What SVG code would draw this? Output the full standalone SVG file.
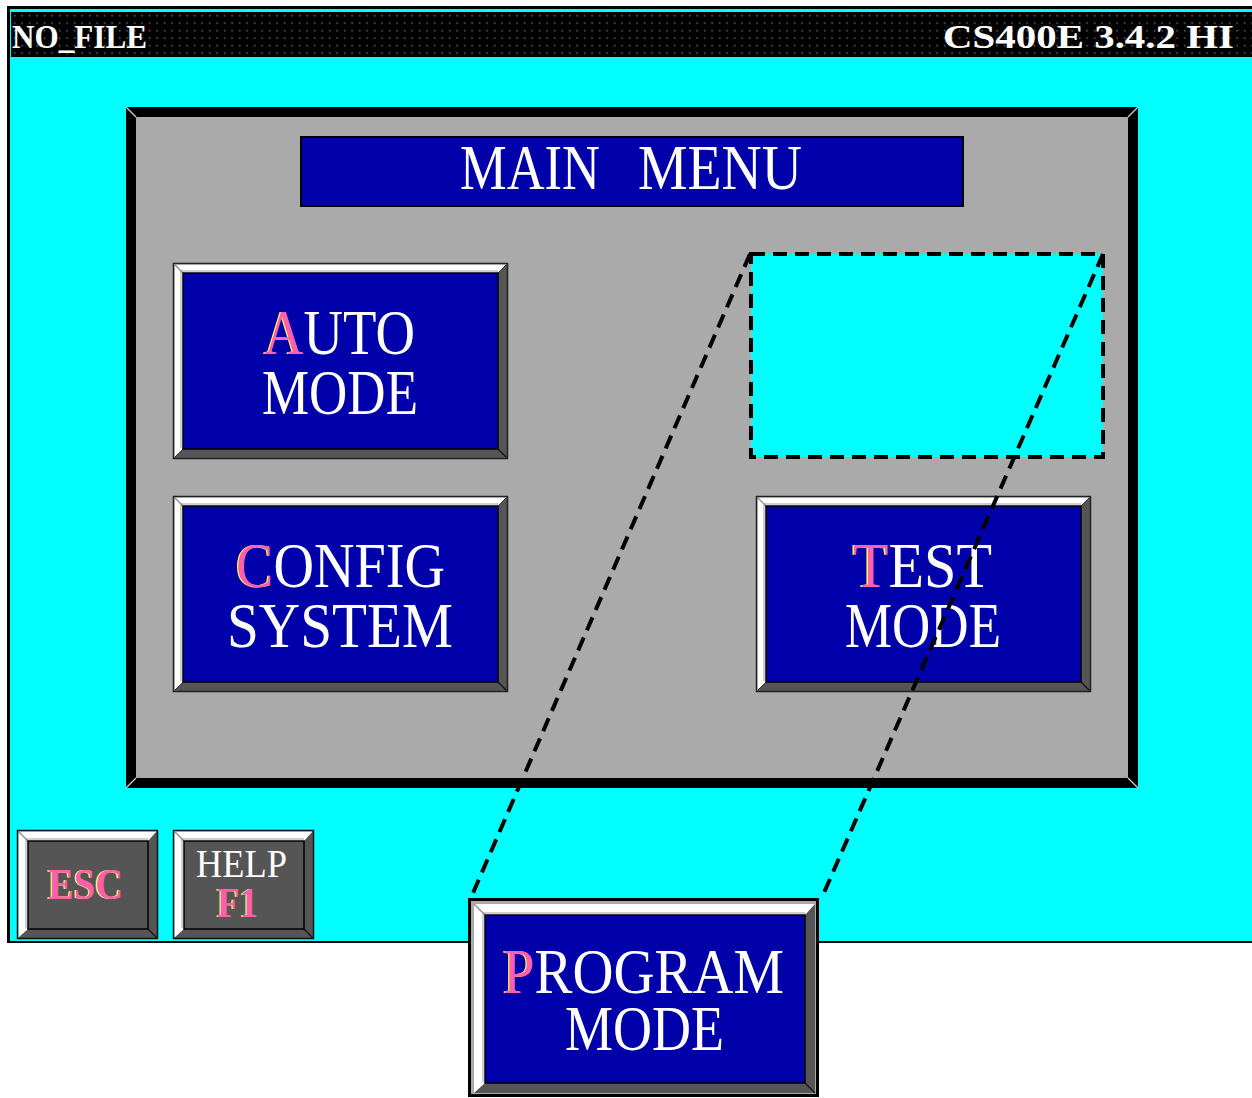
<svg xmlns="http://www.w3.org/2000/svg" width="1252" height="1098" viewBox="0 0 1252 1098">
  <style>
    .serif { font-family: "Liberation Serif", "Times New Roman", serif; }
    .lbl { font-family: "Liberation Serif", "Times New Roman", serif; font-size: 63px; fill: #ffffff; }
    .hot { fill: #ff5fae; text-shadow: -1.5px 0 #ffff55; }
    .bar { font-family: "Liberation Serif", "Times New Roman", serif; font-size: 34px; font-weight: bold; fill: #ffffff; }
    .small { font-family: "Liberation Serif", "Times New Roman", serif; font-weight: bold; }
    .dash { fill: none; stroke: #000000; stroke-width: 4; stroke-dasharray: 14 8; }
  </style>
  <defs>
    <pattern id="dots" x="11" y="12" width="7.5" height="7.5" patternUnits="userSpaceOnUse">
      <rect width="7.5" height="7.5" fill="#000000"/>
      <rect x="3" y="3" width="1.3" height="1.3" fill="#8a8a8a"/>
    </pattern>
    <!-- large bevelled key, 335 x 196 -->
    <g id="keyLarge">
      <rect x="0.5" y="0.5" width="334" height="195" fill="#555555" stroke="#222222" stroke-width="1.5"/>
      <polygon points="1.5,1.5 333.5,1.5 325,10 10,10 10,186 1.5,194.5" fill="#ffffff"/>
      <polyline points="8,185 8,8 325,8" fill="none" stroke="#cfcfcf" stroke-width="2"/>
      <line x1="1.5" y1="1.5" x2="10" y2="10" stroke="#888888" stroke-width="1.2"/>
      <line x1="325" y1="186" x2="333.5" y2="194.5" stroke="#111111" stroke-width="1.2"/>
      <line x1="333.5" y1="1.5" x2="325" y2="10" stroke="#333333" stroke-width="1"/>
      <line x1="1.5" y1="194.5" x2="10" y2="186" stroke="#333333" stroke-width="1"/>
      <rect x="10" y="10" width="315" height="176" fill="#0000aa" stroke="#000000" stroke-width="1.5"/>
    </g>
    <!-- small function key, 141 x 109 -->
    <g id="keySmall">
      <rect x="0.5" y="0.5" width="140" height="108" fill="#555555" stroke="#111111" stroke-width="1.5"/>
      <polygon points="1.5,1.5 139.5,1.5 131,11 11,11 11,99 1.5,107.5" fill="#ffffff"/>
      <polyline points="9,98 9,9 131,9" fill="none" stroke="#cfcfcf" stroke-width="2"/>
      <line x1="1.5" y1="1.5" x2="11" y2="11" stroke="#888888" stroke-width="1.2"/>
      <line x1="131" y1="99" x2="139.5" y2="107.5" stroke="#111111" stroke-width="1.2"/>
      <rect x="11" y="11" width="120" height="88" fill="#555555" stroke="#000000" stroke-width="1.5"/>
    </g>
  </defs>

  <!-- page and window frame -->
  <rect width="1252" height="1098" fill="#ffffff"/>
  <rect x="7" y="6" width="1245" height="937" fill="#000000"/>
  <rect x="10" y="9" width="1242" height="932" fill="#00ffff"/>

  <!-- status bar -->
  <g id="statusBar">
    <rect x="11" y="12" width="1241" height="45" fill="url(#dots)"/>
    <text class="bar" x="12" y="48" textLength="135" lengthAdjust="spacingAndGlyphs">NO_FILE</text>
    <text class="bar" x="943" y="48" textLength="291" lengthAdjust="spacingAndGlyphs">CS400E 3.4.2 HI</text>
  </g>

  <!-- main menu panel -->
  <g id="panel">
    <rect x="126" y="107" width="1012" height="681" fill="#000000"/>
    <rect x="136" y="117" width="992" height="661" fill="#aaaaaa"/>
    <g stroke="#d0d0d0" stroke-width="1.3">
      <line x1="126" y1="107" x2="136" y2="117"/>
      <line x1="1138" y1="107" x2="1128" y2="117"/>
      <line x1="126" y1="788" x2="136" y2="778"/>
      <line x1="1138" y1="788" x2="1128" y2="778"/>
    </g>
  </g>

  <g id="title">
    <rect x="301" y="137" width="662" height="69" fill="#0000aa" stroke="#000000" stroke-width="2"/>
    <text class="lbl" y="189"><tspan x="460" textLength="140" lengthAdjust="spacingAndGlyphs">MAIN</tspan><tspan x="638" textLength="164" lengthAdjust="spacingAndGlyphs">MENU</tspan></text>
  </g>

  <g id="autoMode">
    <use href="#keyLarge" x="173" y="263"/>
    <text class="lbl"><tspan x="264" y="354" textLength="151" lengthAdjust="spacingAndGlyphs"><tspan class="hot">A</tspan>UTO</tspan><tspan x="262" y="414" textLength="156" lengthAdjust="spacingAndGlyphs">MODE</tspan></text>
  </g>

  <g id="configSystem">
    <use href="#keyLarge" x="173" y="496"/>
    <text class="lbl"><tspan x="236" y="587" textLength="209" lengthAdjust="spacingAndGlyphs"><tspan class="hot">C</tspan>ONFIG</tspan><tspan x="227" y="647" textLength="226" lengthAdjust="spacingAndGlyphs">SYSTEM</tspan></text>
  </g>

  <g id="testMode">
    <use href="#keyLarge" x="756" y="496"/>
    <text class="lbl"><tspan x="853" y="587" textLength="139" lengthAdjust="spacingAndGlyphs"><tspan class="hot">T</tspan>EST</tspan><tspan x="845" y="647" textLength="156" lengthAdjust="spacingAndGlyphs">MODE</tspan></text>
  </g>

  <!-- empty slot left by the program key -->
  <g id="programSlot">
    <rect x="751" y="254" width="352" height="203" fill="#00ffff"/>
    <rect x="751" y="254" width="352" height="203" class="dash"/>
  </g>

  <g id="escKey">
    <use href="#keySmall" x="17" y="830"/>
    <text class="small" x="48" y="899" font-size="44" fill="#ff5fae" textLength="75" lengthAdjust="spacingAndGlyphs" style="text-shadow:-1.5px 0 #ffff55">ESC</text>
  </g>

  <g id="helpKey">
    <use href="#keySmall" x="173" y="830"/>
    <text class="serif" font-size="40" fill="#ffffff"><tspan x="196" y="877" textLength="91" lengthAdjust="spacingAndGlyphs">HELP</tspan><tspan class="small hot" x="217" y="917" font-size="42" textLength="41" lengthAdjust="spacingAndGlyphs">F1</tspan></text>
  </g>

  <!-- projection lines from the slot to the detached key -->
  <g id="connectors">
    <line x1="750" y1="254" x2="473" y2="893" class="dash"/>
    <line x1="1103" y1="254" x2="823" y2="895" class="dash"/>
  </g>

  <g id="programMode">
    <rect x="469.5" y="899.5" width="348" height="196" fill="#aaaaaa" stroke="#000000" stroke-width="3"/>
    <rect x="474" y="904" width="341" height="189" fill="#555555"/>
    <polygon points="474,904 815,904 805,915 485,915 485,1083 474,1093" fill="#ffffff"/>
    <polyline points="483,1082 483,913 805,913" fill="none" stroke="#cfcfcf" stroke-width="2"/>
    <line x1="474" y1="904" x2="485" y2="915" stroke="#888888" stroke-width="1.2"/>
    <line x1="805" y1="1083" x2="815" y2="1093" stroke="#111111" stroke-width="1.2"/>
    <rect x="485" y="915" width="320" height="168" fill="#0000aa" stroke="#000000" stroke-width="1.5"/>
    <text class="lbl"><tspan x="503" y="993" textLength="281" lengthAdjust="spacingAndGlyphs"><tspan class="hot">P</tspan>ROGRAM</tspan><tspan x="565" y="1050" textLength="159" lengthAdjust="spacingAndGlyphs">MODE</tspan></text>
  </g>
</svg>
